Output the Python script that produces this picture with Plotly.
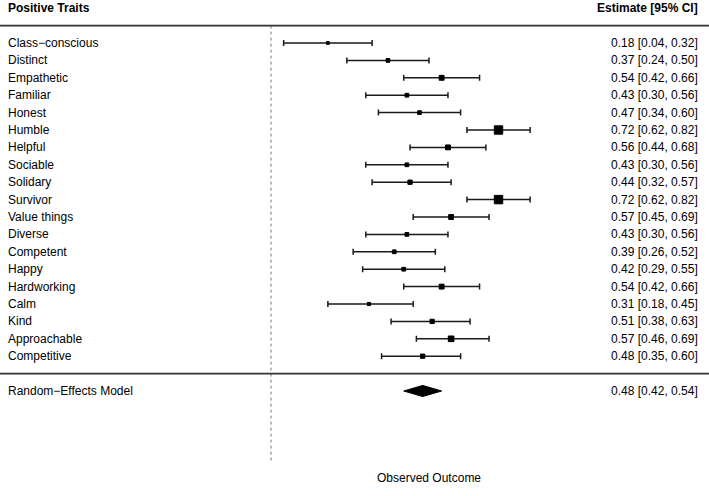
import plotly.graph_objects as go

traits = ["Class\u2212conscious", "Distinct", "Empathetic", "Familiar", "Honest", "Humble",
          "Helpful", "Sociable", "Solidary", "Survivor", "Value things", "Diverse",
          "Competent", "Happy", "Hardworking", "Calm", "Kind", "Approachable", "Competitive"]
est = [0.18, 0.37, 0.54, 0.43, 0.47, 0.72, 0.56, 0.43, 0.44, 0.72, 0.57, 0.43, 0.39, 0.42,
       0.54, 0.31, 0.51, 0.57, 0.48]
ci_lo = [0.04, 0.24, 0.42, 0.30, 0.34, 0.62, 0.44, 0.30, 0.32, 0.62, 0.45, 0.30, 0.26, 0.29,
         0.42, 0.18, 0.38, 0.46, 0.35]
ci_hi = [0.32, 0.50, 0.66, 0.56, 0.60, 0.82, 0.68, 0.56, 0.57, 0.82, 0.69, 0.56, 0.52, 0.55,
         0.66, 0.45, 0.63, 0.69, 0.60]

summary_label = "Random\u2212Effects Model"
summary_est = 0.48
summary_lo = 0.42
summary_hi = 0.54

header_left = "Positive Traits"
header_right = "Estimate [95% CI]"
xlab = "Observed Outcome"
refline = 0.0

FONT = "Liberation Sans, Arial, sans-serif"
k = len(traits)
rows = list(range(k, 0, -1))

# weights from CI widths -> marker sizes (like metafor psize)
w = [1.0 / ((h - l) / 3.92) ** 2 for l, h in zip(ci_lo, ci_hi)]
wmin, wmax = min(w), max(w)
sizes = [5.6 * (0.5 + (wi - wmin) / (wmax - wmin)) for wi in w]

fig = go.Figure()

fig.add_trace(go.Scatter(
    x=est, y=rows, mode="markers",
    marker=dict(symbol="square", size=sizes, color="black", opacity=1,
                line=dict(width=1, color="black")),
    error_x=dict(type="data", symmetric=False,
                 array=[h - e for e, h in zip(est, ci_hi)],
                 arrayminus=[e - l for e, l in zip(est, ci_lo)],
                 color="#1a1a1a", thickness=1.5, width=3),
    hoverinfo="skip", showlegend=False))

sy = -1
dh = 0.32
fig.add_trace(go.Scatter(
    x=[summary_lo, summary_est, summary_hi, summary_est, summary_lo],
    y=[sy, sy + dh, sy, sy - dh, sy],
    mode="lines", fill="toself", fillcolor="black",
    line=dict(color="black", width=1), hoverinfo="skip", showlegend=False))

LX = 6 / 709
RX = 700 / 709
fnt = dict(family=FONT, size=12, color="black")
ann = []
for r, t, e, l, h in zip(rows, traits, est, ci_lo, ci_hi):
    ann.append(dict(x=LX, xref="paper", y=r, yref="y", text=t, showarrow=False,
                    xanchor="left", yanchor="middle", font=fnt))
    ann.append(dict(x=RX, xref="paper", y=r, yref="y",
                    text=f"{e:.2f} [{l:.2f}, {h:.2f}]", showarrow=False,
                    xanchor="right", yanchor="middle", font=fnt))
ann.append(dict(x=LX, xref="paper", y=sy, yref="y", text=summary_label, showarrow=False,
                xanchor="left", yanchor="middle", font=fnt))
ann.append(dict(x=RX, xref="paper", y=sy, yref="y",
                text=f"{summary_est:.2f} [{summary_lo:.2f}, {summary_hi:.2f}]", showarrow=False,
                xanchor="right", yanchor="middle", font=fnt))
ann.append(dict(x=LX, xref="paper", y=k + 2, yref="y", text=f"<b>{header_left}</b>",
                showarrow=False, xanchor="left", yanchor="middle", font=fnt))
ann.append(dict(x=RX, xref="paper", y=k + 2, yref="y", text=f"<b>{header_right}</b>",
                showarrow=False, xanchor="right", yanchor="middle", font=fnt))
ann.append(dict(x=429 / 709, xref="paper", y=-6, yref="y", text=xlab, showarrow=False,
                xanchor="center", yanchor="middle", font=fnt))

shapes = [
    dict(type="line", xref="paper", x0=0, x1=1, yref="y", y0=k + 1, y1=k + 1,
         line=dict(color="#333", width=1.6)),
    dict(type="line", xref="paper", x0=0, x1=1, yref="y", y0=0, y1=0,
         line=dict(color="#333", width=1.6)),
    dict(type="line", xref="x", x0=refline, x1=refline, yref="y", y0=k + 1, y1=-5.1,
         line=dict(color="#777", width=1, dash="dot"), layer="below"),
]

px_per_unit = 316.0
x0_px = 271.0
fig.update_layout(
    width=709, height=496,
    margin=dict(l=0, r=0, t=0, b=0),
    paper_bgcolor="white", plot_bgcolor="white",
    xaxis=dict(range=[-x0_px / px_per_unit, (709 - x0_px) / px_per_unit], visible=False,
               showgrid=False, zeroline=False),
    yaxis=dict(range=[19 - (496 - 43) / 17.4, 19 + 43 / 17.4], visible=False,
               showgrid=False, zeroline=False),
    annotations=ann, shapes=shapes, showlegend=False,
)

fig.write_html("out.html")
